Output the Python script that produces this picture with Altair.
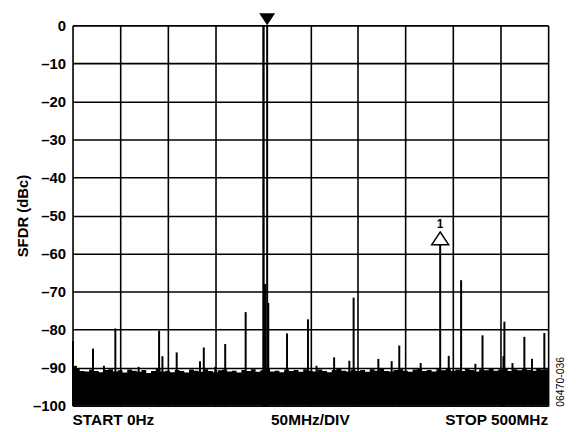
import altair as alt
import pandas as pd

# Noise floor top (dBc), one value every 5 MHz from 0 to 500 MHz
noise_freq = [i * 5 for i in range(101)]
noise_level = [
    -89.6, -90.3, -90.9, -91.0, -90.5, -90.9, -91.2, -90.6, -90.4, -91.0,
    -90.7, -91.3, -90.5, -90.8, -91.1, -90.6, -91.4, -90.9, -90.3, -91.0,
    -90.8, -91.2, -90.6, -90.9, -91.3, -90.5, -90.8, -91.1, -90.4, -90.9,
    -91.2, -90.7, -90.5, -91.0, -90.8, -91.3, -90.6, -90.9, -90.4, -91.1,
    -90.7, -90.3, -91.0, -90.8, -91.2, -90.5, -90.9, -90.6, -91.1, -90.4,
    -90.8, -91.0, -90.5, -90.9, -91.2, -90.6, -90.3, -90.8, -91.0, -90.5,
    -90.9, -90.6, -91.1, -90.4, -90.8, -90.2, -90.9, -91.0, -90.6, -90.4,
    -90.8, -91.1, -90.5, -90.3, -90.9, -90.6, -91.0, -90.4, -90.7, -90.2,
    -90.8, -90.5, -90.9, -90.3, -90.6, -91.0, -90.4, -90.7, -90.2, -90.8,
    -90.5, -90.3, -90.9, -90.4, -90.7, -90.2, -90.6, -90.8, -90.3, -90.5,
    -90.4,
]

# Discrete spectral lines (MHz, dBc)
spur_freq = [0.5, 3.5, 21.5, 33, 45, 69.5, 91, 94.5, 109.5, 134, 138, 150,
             160.5, 182, 200.6, 202.4, 204.6, 205.8, 225.5, 247.5, 256.5,
             275, 291, 295.5, 321.5, 335.5, 343.5, 366, 386.5, 395.5, 408.5,
             423.5, 431, 453, 454, 462.5, 475, 483, 496]
spur_level = [-83, -89.5, -85, -89.5, -79.7, -89.8, -80.3, -87, -86, -88.3,
              -84.7, -89.8, -83.8, -75.4, 0, -68, 0, -73, -81, -77.3, -89.5,
              -87.3, -88.2, -71.6, -87.7, -88.3, -84.2, -88.8, -57.5, -86.9,
              -67, -89, -81.5, -87, -77.9, -88.8, -81.9, -87.7, -80.9]

# Markers
ref_marker_freq = [204.6]
ref_marker_level = [1.6]
m1_freq = [386.5]
m1_level = [-56.0]
m1_label = ["1"]

bottom_freq = [0, 250, 500]
bottom_text = ["START 0Hz", "50MHz/DIV", "STOP 500MHz"]
side_text = ["06470-036"]

x_ticks = [0, 50, 100, 150, 200, 250, 300, 350, 400, 450, 500]
y_ticks = [0, -10, -20, -30, -40, -50, -60, -70, -80, -90, -100]

W, H = 479, 383
FONT = "Liberation Sans"

noise_df = pd.DataFrame({"f": noise_freq, "v": noise_level, "b": -100})
spur_df = pd.DataFrame({"f": spur_freq, "v": spur_level, "b": -100})
ref_df = pd.DataFrame({"f": ref_marker_freq, "v": ref_marker_level})
m1_df = pd.DataFrame({"f": m1_freq, "v": m1_level, "t": m1_label})
bottom_df = pd.DataFrame({"f": bottom_freq, "t": bottom_text})

xs = alt.Scale(domain=[0, 500], nice=False, zero=False)
ys = alt.Scale(domain=[-100, 0], nice=False, zero=False)

x_axis = alt.Axis(values=x_ticks, labels=False, ticks=False, domain=False,
                  title=None, grid=True, gridColor="black", gridWidth=1.6,
                  gridOpacity=1)
y_axis = alt.Axis(values=y_ticks, ticks=False, domain=False, grid=True,
                  gridColor="black", gridWidth=1.6, gridOpacity=1,
                  labelOverlap=False,
                  labelFont=FONT, labelFontSize=15, labelFontWeight="bold",
                  labelColor="black", labelPadding=7,
                  labelExpr="datum.value < 0 ? '–' + abs(datum.value) : '0'",
                  title="SFDR (dBc)", titleFont=FONT, titleFontSize=15,
                  titleFontWeight="bold", titleColor="black", titlePadding=2)

X = alt.X("f:Q", scale=xs, axis=x_axis)
Y = alt.Y("v:Q", scale=ys, axis=y_axis)

noise = alt.Chart(noise_df).mark_area(
    interpolate="step", color="black", clip=True
).encode(x=X, y=Y, y2="b:Q")

spurs = alt.Chart(spur_df).mark_rule(color="black", strokeWidth=2).encode(
    x=X, y=Y, y2="b:Q"
)

ref_mark = alt.Chart(ref_df).mark_point(
    shape="M-1,-0.75L1,-0.75L0,0.75Z", size=256, filled=True,
    color="black", opacity=1
).encode(x=X, y=Y)

m1_mark = alt.Chart(m1_df).mark_point(
    shape="M0,-0.75L1,0.75L-1,0.75Z", size=289, filled=True,
    fill="white", stroke="black", strokeWidth=1.5, opacity=1
).encode(x=X, y=Y)

m1_text = alt.Chart(m1_df).mark_text(
    font=FONT, fontSize=12, fontWeight="bold", color="black", dy=-14
).encode(x=X, y=Y, text="t:N")

start_t = alt.Chart(bottom_df.iloc[[0]]).mark_text(
    font=FONT, fontSize=15.5, fontWeight="bold", color="black", align="left",
    baseline="top"
).encode(x=X, y=alt.value(H + 7), text="t:N")
mid_t = alt.Chart(bottom_df.iloc[[1]]).mark_text(
    font=FONT, fontSize=15.5, fontWeight="bold", color="black", align="center",
    baseline="top"
).encode(x=X, y=alt.value(H + 7), text="t:N")
stop_t = alt.Chart(bottom_df.iloc[[2]]).mark_text(
    font=FONT, fontSize=15.5, fontWeight="bold", color="black", align="right",
    baseline="top"
).encode(x=X, y=alt.value(H + 7), text="t:N")

side_t = alt.Chart(pd.DataFrame({"t": side_text})).mark_text(
    font=FONT, fontSize=10.5, color="black", angle=270, align="center",
    baseline="middle"
).encode(x=alt.value(W + 13), y=alt.value(359), text="t:N")

chart = alt.layer(
    noise, spurs, ref_mark, m1_mark, m1_text, start_t, mid_t, stop_t, side_t
).properties(
    width=W, height=H,
    autosize=alt.AutoSizeParams(type="none"),
    padding={"left": 65, "top": 16, "right": 20, "bottom": 22},
).configure_view(
    stroke="black", strokeWidth=2
).configure(background="white")

chart.save("out.html", embed_options={"renderer": "svg", "actions": False})
